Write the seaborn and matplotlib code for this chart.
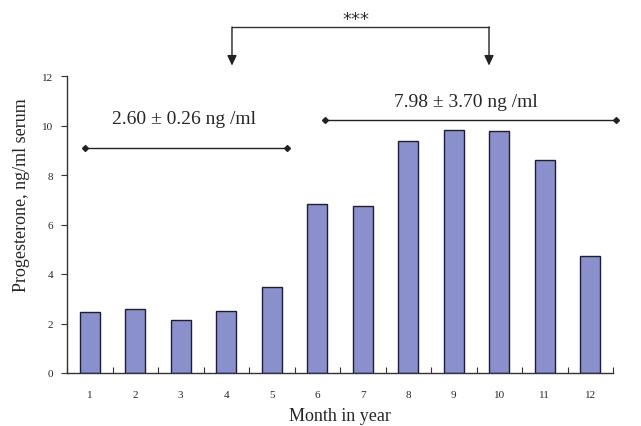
import numpy as np
import pandas as pd
import matplotlib
matplotlib.use("Agg")
import matplotlib.pyplot as plt
import seaborn as sns

# ---- data ----
months = ["1", "2", "3", "4", "5", "6", "7", "8", "9", "10", "11", "12"]
progesterone = [2.45, 2.57, 2.14, 2.50, 3.48, 6.81, 6.75, 9.39, 9.83, 9.79, 8.61, 4.74]
y_ticks = [0, 2, 4, 6, 8, 10, 12]
low_label = "2.60 \u00b1 0.26 ng /ml"
high_label = "7.98 \u00b1 3.70 ng /ml"
sig_label = "***"
x_title = "Month in year"
y_title = "Progesterone, ng/ml serum"

df = pd.DataFrame({"month": months, "value": progesterone})

sns.set_style("ticks")
plt.rcParams["font.family"] = ["Liberation Serif", "DejaVu Serif"]

fig = plt.figure(figsize=(6.41, 4.27), dpi=100)
ax = fig.add_axes([67 / 641, 53 / 427, 546 / 641, 297 / 427])

sns.barplot(data=df, x="month", y="value", order=months, ax=ax,
            color="#8A90CB", saturation=1, width=0.44,
            edgecolor="#1c1c3c", linewidth=1.0)

ax.set_xlim(-0.5, 11.5)
ax.set_ylim(0, 12)
ax.set_yticks(y_ticks)
ax.set_yticklabels([str(v) for v in y_ticks], fontsize=8)
ax.set_xticks(range(len(months)))
ax.set_xticklabels(months, fontsize=8)
ax.tick_params(axis="x", which="major", length=0, pad=12)
ax.set_xticks(np.arange(-0.5, len(months), 1.0), minor=True)
ax.tick_params(axis="x", which="minor", direction="in", length=4, width=0.8, color="#333333")
ax.tick_params(axis="y", direction="out", length=4, width=0.8, color="#333333", pad=6)

for side in ["top", "right"]:
    ax.spines[side].set_visible(False)
for side in ["left", "bottom"]:
    ax.spines[side].set_color("#333333")
    ax.spines[side].set_linewidth(1.0)

ax.set_xlabel(x_title, fontsize=13, labelpad=6)
ax.set_ylabel(y_title, fontsize=13)
ax.yaxis.set_label_coords(-0.068, 0.603)

# group range lines
ax.plot([-0.104, 4.335], [9.09, 9.09], color="#222222", lw=1.0, marker="D",
        markersize=3, clip_on=False)
ax.plot([5.17, 11.57], [10.22, 10.22], color="#222222", lw=1.0, marker="D",
        markersize=3, clip_on=False)
ax.text(2.07, 10.30, low_label, ha="center", va="center", fontsize=14)
ax.text(8.27, 10.95, high_label, ha="center", va="center", fontsize=14)

# significance bracket
ax.plot([3.126, 8.775], [13.98, 13.98], color="#333333", lw=1.0, clip_on=False)
for xb in [3.126, 8.775]:
    ax.annotate("", xy=(xb, 12.42), xytext=(xb, 13.98), annotation_clip=False,
                arrowprops=dict(arrowstyle="-|>,head_length=0.6,head_width=0.28",
                                color="#222222", lw=1.0,
                                mutation_scale=10, shrinkA=0, shrinkB=0))
ax.text(5.85, 14.30, sig_label, ha="center", va="center", fontsize=13,
        family=["DejaVu Sans"], color="#333333")

fig.savefig("out.png", dpi=100)
